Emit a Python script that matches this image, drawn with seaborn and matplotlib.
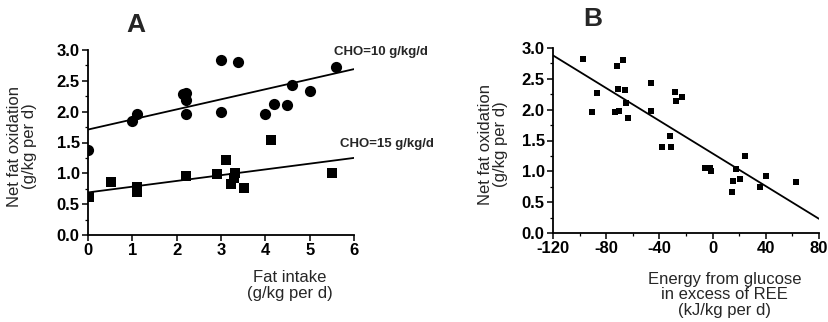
import seaborn as sns
import pandas as pd
import matplotlib.pyplot as plt
from matplotlib.ticker import MultipleLocator

# panel A - CHO = 10 g/kg/d (circles)
a10_x = [0.0, 1.0, 1.1, 2.15, 2.2, 2.2, 2.2, 3.0, 3.0, 3.38, 4.0, 4.2, 4.5, 4.6, 5.0, 5.59]
a10_y = [1.38, 1.85, 1.96, 2.28, 2.31, 2.19, 1.96, 2.83, 1.99, 2.80, 1.97, 2.13, 2.11, 2.43, 2.34, 2.73]
# panel A - CHO = 15 g/kg/d (squares)
a15_x = [0.02, 0.51, 1.1, 1.1, 2.22, 2.92, 3.12, 3.32, 3.3, 3.22, 3.53, 4.12, 5.51]
a15_y = [0.61, 0.86, 0.78, 0.69, 0.95, 0.99, 1.21, 1.00, 0.93, 0.82, 0.77, 1.54, 1.01]
# regression lines
a10_fit_x = [0, 6]
a10_fit_y = [1.71, 2.69]
a15_fit_x = [0, 6]
a15_fit_y = [0.69, 1.25]

# panel B
b_x = [-97.7, -90.9, -86.9, -71.9, -67.4, -71.1, -66.1, -73.4, -70.4, -64.9, -63.9,
       -46.1, -46.1, -38.0, -32.0, -31.0, -28.0, -27.3, -22.8, -5.5, -2.2, -1.5,
       14.6, 15.3, 17.8, 20.4, 24.1, 35.9, 39.9, 62.5]
b_y = [2.82, 1.97, 2.27, 2.71, 2.80, 2.33, 2.32, 1.97, 1.98, 2.11, 1.86,
       2.43, 1.98, 1.39, 1.58, 1.39, 2.29, 2.14, 2.20, 1.06, 1.06, 1.00,
       0.66, 0.85, 1.04, 0.88, 1.25, 0.75, 0.93, 0.83]
b_fit_x = [-120, 80]
b_fit_y = [2.88, 0.23]

sns.set_style("ticks")
plt.rcParams['font.family'] = ['Liberation Sans', 'DejaVu Sans']

fig = plt.figure(figsize=(8.29, 3.22), dpi=100)
axA = fig.add_axes([88 / 829, 87 / 322, 266 / 829, 185 / 322])
axB = fig.add_axes([553 / 829, 89 / 322, 266 / 829, 185 / 322])

sns.scatterplot(x=a10_x, y=a10_y, ax=axA, marker='o', color='black', s=65, edgecolor='black', linewidth=0)
sns.scatterplot(x=a15_x, y=a15_y, ax=axA, marker='s', color='black', s=55, edgecolor='black', linewidth=0)
sns.lineplot(x=a10_fit_x, y=a10_fit_y, ax=axA, color='black', linewidth=1.3)
sns.lineplot(x=a15_fit_x, y=a15_fit_y, ax=axA, color='black', linewidth=1.3)

sns.scatterplot(x=b_x, y=b_y, ax=axB, marker='s', color='black', s=18, edgecolor='black', linewidth=0)
sns.lineplot(x=b_fit_x, y=b_fit_y, ax=axB, color='black', linewidth=1.3)

for ax in (axA, axB):
    ax.set_ylim(0, 3.0)
    ax.yaxis.set_major_locator(MultipleLocator(0.5))
    ax.yaxis.set_minor_locator(MultipleLocator(0.25))
    ax.set_yticklabels([f"{v:.1f}" for v in ax.get_yticks()])
    sns.despine(ax=ax)
    for s in ('left', 'bottom'):
        ax.spines[s].set_linewidth(1.3)
        ax.spines[s].set_color('black')
    ax.tick_params(which='major', length=4, width=1.1, colors='black', labelsize=12, pad=2)
    ax.tick_params(which='minor', length=2.5, width=0.9, colors='black')
    for lab in ax.get_xticklabels() + ax.get_yticklabels():
        lab.set_fontweight('bold')
    ax.set_ylabel("Net fat oxidation\n(g/kg per d)", fontsize=12, linespacing=1.0)

axA.set_xlim(0, 6)
axA.set_xticks(range(0, 7))
axA.set_xticklabels([str(v) for v in range(0, 7)], fontweight='bold')
axA.set_xlabel("Fat intake\n(g/kg per d)", fontsize=12, linespacing=1.05)
axA.xaxis.set_label_coords(0.76, -0.19)
axA.xaxis.label.set_va('top')
axA.yaxis.set_label_coords(-0.19, 0.48)

axB.set_xlim(-120, 80)
axB.set_xticks(range(-120, 81, 40))
axB.set_xticklabels([str(v) for v in range(-120, 81, 40)], fontweight='bold')
axB.xaxis.set_minor_locator(MultipleLocator(20))
axB.set_xlabel("Energy from glucose\nin excess of REE\n(kJ/kg per d)", fontsize=12, linespacing=1.05)
axB.xaxis.set_label_coords(0.645, -0.21)
axB.xaxis.label.set_va('top')
axB.yaxis.set_label_coords(-0.17, 0.48)

axA.text(5.56, 2.97, "CHO=10 g/kg/d", fontsize=9.5, fontweight='bold', va='center', clip_on=False)
axA.text(5.68, 1.47, "CHO=15 g/kg/d", fontsize=9.5, fontweight='bold', va='center', clip_on=False)

fig.text(136 / 829, 1 - 25 / 322, "A", fontsize=19, fontweight='bold', ha='center', va='center')
fig.text(593 / 829, 1 - 19 / 322, "B", fontsize=19, fontweight='bold', ha='center', va='center')

fig.savefig("out.png", dpi=100)
